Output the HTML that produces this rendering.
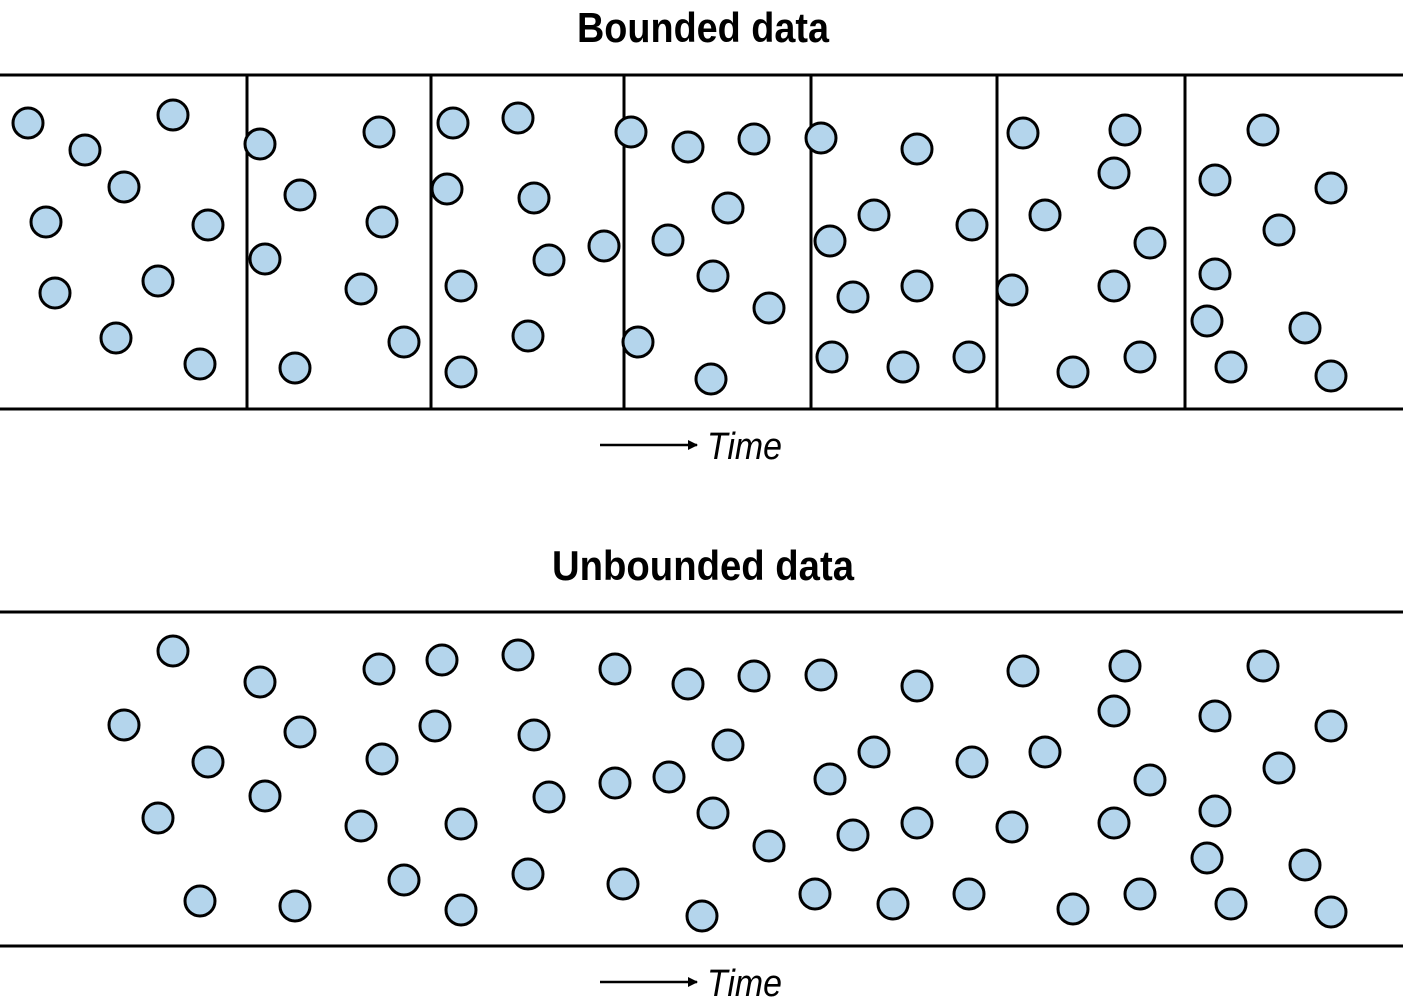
<!DOCTYPE html>
<html><head><meta charset="utf-8"><style>
html,body{margin:0;padding:0;background:#fff;}
svg{display:block;}
text{font-family:"Liberation Sans",sans-serif;fill:#000;}
</style></head><body>
<svg id="chart" width="1403" height="1008" viewBox="0 0 1403 1008" xmlns="http://www.w3.org/2000/svg">
<defs><marker id="ah" markerWidth="10" markerHeight="10" refX="9" refY="5" orient="auto" markerUnits="userSpaceOnUse"><path d="M0,0 L10,5 L0,10 Z" fill="#000"/></marker></defs>
<text x="703" y="42" text-anchor="middle" font-size="42" font-weight="bold" textLength="252" lengthAdjust="spacingAndGlyphs">Bounded data</text>
<text x="703" y="580" text-anchor="middle" font-size="42" font-weight="bold" textLength="302" lengthAdjust="spacingAndGlyphs">Unbounded data</text>
<g id="topg"></g>
<g id="botg"></g>
<line x1="600" y1="445" x2="697" y2="445" stroke="#000" stroke-width="2.5" marker-end="url(#ah)"/>
<text x="707" y="459" font-size="38" font-style="italic" textLength="75" lengthAdjust="spacingAndGlyphs">Time</text>
<line x1="600" y1="982" x2="697" y2="982" stroke="#000" stroke-width="2.5" marker-end="url(#ah)"/>
<text x="707" y="996" font-size="38" font-style="italic" textLength="75" lengthAdjust="spacingAndGlyphs">Time</text>
</svg>
<script>
const dividers=[247,431,624,811,997,1185];
const topX=[28,85,173,124,46,208,158,55,116,200, 260,379,300,382,265,361,404,295, 453,518,447,534,604,549,461,528,461, 631,688,754,728,668,713,769,638,711, 821,917,874,972,830,853,917,832,903,969, 1023,1125,1114,1045,1150,1012,1114,1140,1073, 1263,1215,1331,1279,1215,1207,1305,1231,1331];
const topY=[123,150,115,187,222,225,281,293,338,364, 144,132,195,222,259,289,342,368, 123,118,189,198,246,260,286,336,372, 132,147,139,208,240,276,308,342,379, 138,149,215,225,241,297,286,357,367,357, 133,130,173,215,243,290,286,357,372, 130,180,188,230,274,321,328,367,376];
const botX=[173,260,379,442,518,615,688,754,821,917,1023,1125,1263, 124,300,435,534,728,1114,1215,1331, 208,382,874,972,1045,669,615,830,1150,1279, 265,549,158,361,461,713,917,1012,1114,1215,853,769, 404,528,623,1207,1305, 200,295,461,702,815,893,969,1073,1140,1231,1331];
const botY=[651,682,669,660,655,669,684,676,675,686,671,666,666, 725,732,726,735,745,711,716,726, 762,759,752,762,752,777,783,779,780,768, 796,797,818,826,824,813,823,827,823,811,835,846, 880,874,884,858,865, 901,906,910,916,894,904,894,909,894,904,912];
const NS="http://www.w3.org/2000/svg";
function mk(tag,attrs,parent){const e=document.createElementNS(NS,tag);for(const k in attrs)e.setAttribute(k,attrs[k]);parent.appendChild(e);return e;}
const topGroup=document.getElementById('topg'),botGroup=document.getElementById('botg');
function hline(y,p,n){const l=mk('line',{x1:0,x2:1403,y1:y,y2:y,stroke:'#000','stroke-width':3},p);

}
hline(75,topGroup,'bounded-top-border');hline(409,topGroup,'bounded-bottom-border');
hline(612,botGroup,'unbounded-top-border');hline(946,botGroup,'unbounded-bottom-border');
dividers.forEach(x=>{const l=mk('line',{x1:x,x2:x,y1:75,y2:409,stroke:'#000','stroke-width':3},topGroup);

});
function dots(xs,ys,p){xs.forEach((x,i)=>{const c=mk('circle',{cx:x,cy:ys[i],r:15,fill:'#b4d5ec',stroke:'#000','stroke-width':3},p);

});}
dots(topX,topY,topGroup);dots(botX,botY,botGroup);
</script>
</body></html>
